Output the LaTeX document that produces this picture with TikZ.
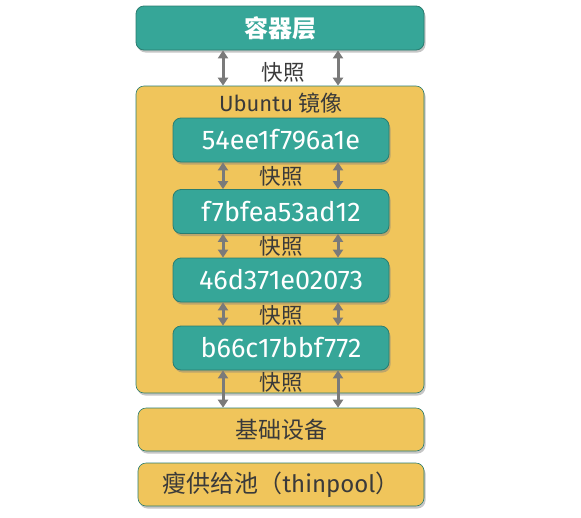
\documentclass[tikz,border=0pt]{standalone}
\usepackage{fontspec}
\setmainfont{Fira Sans}
\newfontfamily\cjk{Noto Sans CJK SC}
\usetikzlibrary{arrows.meta,shadows}
\definecolor{layerteal}{HTML}{36A698}
\definecolor{layeredge}{HTML}{2A7D70}
\definecolor{layeryellow}{HTML}{F0C55B}
\definecolor{layertext}{HTML}{3A3A3A}
\definecolor{snapgray}{HTML}{7A7A7A}
\begin{document}
\begin{tikzpicture}[x=1pt, y=1pt,
  layershadow/.style={drop shadow={shadow xshift=1.5pt, shadow yshift=-2.5pt, opacity=0.45}},
  tealbox/.style={draw=layeredge, fill=layerteal, rounded corners=8pt, line width=0.8pt,
    text=white, minimum height=44pt, inner sep=0pt, layershadow},
  yellowbox/.style={draw=layeredge, fill=layeryellow, rounded corners=8pt, line width=0.6pt,
    text=layertext, inner sep=0pt, layershadow},
  snaparrow/.style={draw=snapgray, line width=3pt,
    {Triangle[width=10pt,length=8pt]}-{Triangle[width=10pt,length=8pt]}},
  snaplabel/.style={text=layertext, font=\cjk\fontsize{21.5}{21.5}\selectfont},
  hexfont/.style={font=\fontsize{27}{27}\selectfont}]
\useasboundingbox (0,0) rectangle (581,-517);

% container layer
\node[tealbox, minimum width=288pt, font=\cjk\bfseries\fontsize{24}{24}\selectfont] (top) at (280,-28) {容器层};

% image with its layers
\node[yellowbox, minimum width=288pt, minimum height=307pt] (ubuntu) at (280,-239.5) {};
\node[text=layertext, font=\fontsize{22}{22}\selectfont] (ubuntutitle) at (281,-103) {Ubuntu {\cjk 镜像}};
\node[tealbox, minimum width=216pt, hexfont] (img1) at (281,-140) {54ee1f796a1e};
\node[tealbox, minimum width=216pt, hexfont] (img2) at (281,-211.5) {f7bfea53ad12};
\node[tealbox, minimum width=216pt, hexfont] (img3) at (281,-280) {46d371e02073};
\node[tealbox, minimum width=216pt, hexfont] (img4) at (281,-348) {b66c17bbf772};

% devicemapper base
\node[yellowbox, minimum width=286pt, minimum height=43pt, font=\cjk\fontsize{23}{23}\selectfont] (base) at (281,-429.5) {基础设备};
\node[yellowbox, minimum width=286pt, minimum height=43pt, font=\fontsize{24}{24}\selectfont] (pool) at (281,-484.5) {{\cjk 瘦供给池（}thinpool{\cjk ）}};

% snapshot arrows
\coordinate (leftrail) at (223,0);
\coordinate (rightrail) at (338,0);
\foreach \upper/\lower in {top/ubuntu, img1/img2, img2/img3, img3/img4, img4/base} {
  \draw[snaparrow] (\upper.south -| leftrail) -- (\lower.north -| leftrail);
  \draw[snaparrow] (\upper.south -| rightrail) -- (\lower.north -| rightrail);
}
\node[snaplabel] (snap1) at (283,-72) {快照};
\node[snaplabel] (snap2) at (281,-176) {快照};
\node[snaplabel] (snap3) at (281,-246) {快照};
\node[snaplabel] (snap4) at (281,-315) {快照};
\node[snaplabel] (snap5) at (281,-382) {快照};
\end{tikzpicture}
\end{document}
